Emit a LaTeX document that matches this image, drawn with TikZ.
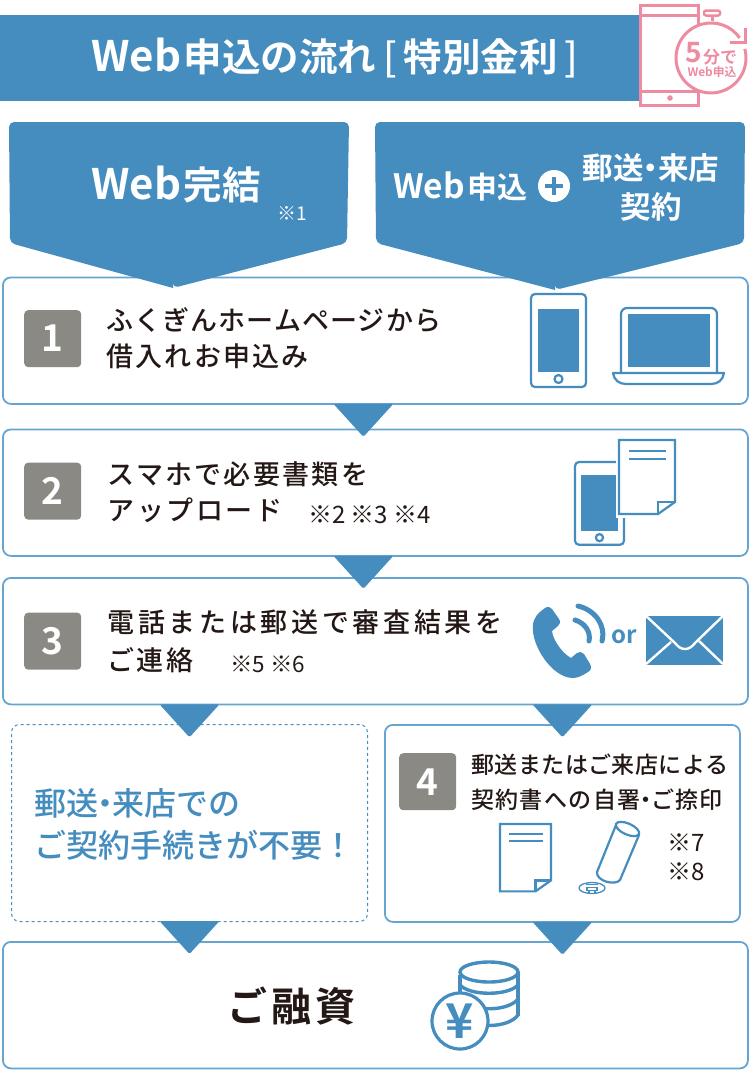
\documentclass[tikz,border=0pt]{standalone}
\usepackage{fontspec}
\usetikzlibrary{positioning}
\setmainfont{Noto Sans CJK JP}
\newfontfamily\jpmed{Noto Sans CJK JP Medium}
\newfontfamily\jpbold{Noto Sans CJK JP Bold}
\definecolor{mainblue}{HTML}{458CBF}
\definecolor{edgeblue}{HTML}{67A4D0}
\definecolor{clockpink}{HTML}{EE8BA0}
\definecolor{inkdark}{HTML}{231815}
\definecolor{badgegray}{HTML}{8A8984}
\newcommand{\dropmark}[1]{\fill[mainblue, rounded corners=1.5pt, shift={(#1)}] (-30,-1) -- (30,-1) -- (0,32) -- cycle;}
\newcommand{\dotsep}{\kern-.27em・\kern-.27em}
\newcommand{\bigweb}[1]{{\fontsize{#1}{#1}\selectfont Web}}
\tikzset{
	pics/phoneicon/.style={code={
		\draw[iconline, rounded corners=4pt] (0,0) rectangle (55,93);
		\fill[mainblue] (7,15) rectangle (48,78);
		\draw[iconline] (27.5,85) circle (4);
	}},
	pics/docicon/.style={code={
		\draw[white, line width=7pt] (0,0) -- (0,74) -- (39,74);
		\draw[iconline, fill=white] (0,0) -- (56,0) -- (56,62) -- (39,74) -- (0,74) -- cycle;
		\draw[iconline] (39,74) -- (39,62) -- (56,62);
		\draw[iconline] (10,11) -- (47,11) (10,19) -- (47,19);
	}},
}
\begin{document}
\begin{tikzpicture}[
		x=1pt, y=-1pt,
		iconline/.style={draw=mainblue, line width=2.2pt},
		stepbox/.style={draw=edgeblue, line width=1.8pt, fill=white, rounded corners=8pt, minimum width=745pt, minimum height=126.5pt, inner sep=0pt},
		numbadge/.style={fill=badgegray, rounded corners=4pt, minimum size=57pt, inner sep=0pt, text=white, font=\jpbold\fontsize{37}{40}\selectfont},
		steptext/.style={align=left, inner sep=0pt, text=inkdark, font=\jpmed\fontsize{27}{36}\selectfont},
		notetext/.style={inner sep=0pt, text=inkdark, font=\fontsize{24}{26}\selectfont},
		headtext/.style={align=center, inner sep=0pt, text=white, font=\jpbold\fontsize{30.5}{39}\selectfont},
	]
	\useasboundingbox (0,0) rectangle (751,1082);
	% header
	\node [fill=mainblue, minimum width=639pt, minimum height=86pt, inner sep=0pt, anchor=north west] (titlebar) at (0,15) {};
	\node [headtext, anchor=west, font=\jpbold\fontsize{38.5}{40}\selectfont] (titletext) at (91,58) {\bigweb{42}\hspace{2.5pt}申込の流れ\hspace{7pt}{\jpmed[}\hspace{7pt}特別金利\hspace{7pt}{\jpmed]}};
	% clock
	\draw[clockpink, line width=3pt, fill=white] (640.5,5.5) rectangle (698,105);
	\draw[clockpink, line width=3pt] (640.5,15) -- (698,15) (640.5,91) -- (698,91);
	\fill[clockpink] (670,98) circle (2.8);
	\draw[clockpink, line width=3pt] (712,21) -- (712,15);
	\draw[clockpink, line width=2.5pt, fill=white, rounded corners=2pt] (704,10.5) rectangle (720,15.5);
	\fill[white] (711,58) circle (36);
	\draw[clockpink, line width=3pt] (744.8,48.9) arc[start angle=-15, end angle=325, radius=35];
	\draw[clockpink, line width=3pt] (730,42) -- (745,42) -- (745,28);
	\node [inner sep=0pt, text=clockpink, anchor=base west, font=\jpbold\fontsize{28}{28}\selectfont] (clockfive) at (685.5,62) {5};
	\node [inner sep=0pt, text=clockpink, anchor=base west, font=\jpbold\fontsize{17}{17}\selectfont] (clockmin) at (703,63) {分で};
	\node [inner sep=0pt, text=clockpink, font=\jpbold\fontsize{11.8}{12}\selectfont] (clockweb) at (712,72.5) {Web申込};
	% step boxes
	\node [stepbox, anchor=north west] (stepone) at (2,276.5) {};
	\node [stepbox, anchor=north west] (steptwo) at (2,428.5) {};
	\node [stepbox, anchor=north west] (stepthree) at (2,577) {};
	\node [stepbox, anchor=north west] (stepend) at (2,941) {};
	\node [stepbox, anchor=north west, minimum width=355pt, minimum height=197pt] (fourbox) at (384,724) {};
	\node [stepbox, anchor=north west, draw=mainblue, line width=1pt, dashed, minimum width=356pt, minimum height=197pt, fill=none] (dashbox) at (11,724) {};
	% heads
	\fill[mainblue, rounded corners=5pt] (9,122) -- (349,122) -- (347,243) -- (173,288) [sharp corners] -- (173,288) [rounded corners=5pt] -- (10,243) -- cycle;
	\fill[mainblue, rounded corners=5pt] (375,122) -- (745,122) -- (744,243) -- (555,290) [sharp corners] -- (555,290) [rounded corners=5pt] -- (376,243) -- cycle;
	\node [headtext, anchor=west, font=\jpbold\fontsize{38.5}{42}\selectfont] (headweb) at (91,185) {\bigweb{42}\hspace{2.5pt}完結};
	\node [inner sep=0pt, text=white, font=\fontsize{19}{20}\selectfont] (noteone) at (292,213) {※1};
	\node [headtext, anchor=west, font=\jpbold\fontsize{30}{32}\selectfont] (headapply) at (393,186) {\bigweb{33.5}\hspace{2.5pt}申込};
	\node [circle, fill=white, minimum size=32pt, inner sep=0pt, anchor=center] (plusmark) at (554,186) {};
	\draw[mainblue, line width=3.5pt] ([xshift=-9pt]plusmark.center) -- ([xshift=9pt]plusmark.center) ([yshift=-9pt]plusmark.center) -- ([yshift=9pt]plusmark.center);
	\node [headtext] (headpost) at (651,187.5) {郵送\dotsep 来店\\契約};
	% step one
	\node [numbadge, right=22pt of stepone.west, yshift=2pt] (numone) {1};
	\node [steptext, right=25pt of numone] (textone) {\addfontfeature{LetterSpace=4}ふくぎんホームページから\\\addfontfeature{LetterSpace=8}借入れお申込み};
	\pic at (531,294) {phoneicon};
	\draw[iconline, rounded corners=6pt] (621,373) -- (621,308) -- (717,308) -- (717,373);
	\fill[mainblue] (628,314) rectangle (710,367);
	\draw[iconline, line join=round] (613,373) -- (724,373) .. controls (723,380) and (718,384) .. (711,384) -- (626,384) .. controls (619,384) and (614,380) .. (613,373) -- cycle;
	% step two
	\node [numbadge, right=22pt of steptwo.west, yshift=1.5pt] (numtwo) {2};
	\node [steptext, right=26pt of numtwo, yshift=-1.5pt] (texttwo) {\addfontfeature{LetterSpace=8.5}スマホで必要書類を\\\addfontfeature{LetterSpace=9.5}アップロード};
	\node [notetext, anchor=west] (notetwo) at (308,515) {※2 ※3 ※4};
	\pic[scale=.89] at (575,462) {phoneicon};
	\pic at (619,440) {docicon};
	% step three
	\node [numbadge, right=22pt of stepthree.west] (numthree) {3};
	\node [steptext, right=26pt of numthree] (textthree) {\addfontfeature{LetterSpace=13.5}電話または郵送で審査結果を\\[2pt]\addfontfeature{LetterSpace=9}ご\hspace{2pt}連絡};
	\node [notetext, anchor=west, font=\fontsize{22.5}{26}\selectfont] (notethree) at (230,664) {※5 ※6};
	\fill[mainblue] (545,608) .. controls (548,606) and (550,607) .. (552,609) -- (559,619) .. controls (561,622) and (560,624) .. (558,626) -- (552,631) .. controls (553,640) and (562,653) .. (571,658) -- (577,653) .. controls (579,651) and (582,652) .. (584,654) -- (590,664) .. controls (592,668) and (591,670) .. (588,672) .. controls (582,676) and (577,678) .. (573,678) .. controls (552,678) and (531,645) .. (533,626) .. controls (533,618) and (538,613) .. (545,608) -- cycle;
	\draw[mainblue, line width=5pt, line cap=round] (575,620) .. controls (585,623) and (591,632) .. (589,641);
	\draw[mainblue, line width=5pt, line cap=round] (578,606) .. controls (595,610) and (606,625) .. (602,641);
	\node [inner sep=0pt, text=mainblue, font=\jpbold\fontsize{24}{24}\selectfont] (ormark) at (624,637) {or};
	\fill[mainblue] (646,616) rectangle (723,665);
	\draw[white, line width=2.4pt] (645,615) -- (675,643) .. controls (681,651) and (689,651) .. (695,643) -- (724,615);
	\draw[white, line width=2.4pt] (646,664) -- (671,642) (723,664) -- (699,641);
	% left branch
	\node [inner sep=0pt, align=left, text=mainblue, font=\jpmed\fontsize{32}{42}\selectfont, anchor=west] (freetext) at (34,824) {郵送\dotsep 来店での\\ご契約手続きが不要！};
	% step four
	\node [numbadge, anchor=north west] (numfour) at (399,753) {4};
	\node [steptext, anchor=north west, font=\jpmed\fontsize{23}{35}\selectfont] (textfour) at (471,754) {\addfontfeature{LetterSpace=2}郵送またはご来店による\\\addfontfeature{LetterSpace=6}契約書への自署\dotsep ご捺印};
	\pic[scale=.91] at (500,824) {docicon};
	\draw[iconline, fill=white] (616,825) -- (597,872) .. controls (596,881) and (615,886) .. (620,880) -- (639,835);
	\draw[iconline, rotate around={-24:(627.5,829)}] (627.5,829) ellipse [x radius=12.5, y radius=5.5];
	\draw[mainblue, line width=1.3pt] (592,888) ellipse [x radius=13, y radius=5.5];
	\draw[mainblue, line width=1.1pt] (586,884.5) -- (598,884.5) (587,887.5) rectangle (597,890.5) (589,890.5) -- (589,892.5) (595,890.5) -- (595,892.5);
	\node [notetext, anchor=west] (noteseven) at (667,843) {※7};
	\node [notetext, anchor=west] (noteeight) at (667,872) {※8};
	% end
	\node [inner sep=0pt, text=inkdark, font=\jpbold\fontsize{40}{42}\selectfont, anchor=west] (endtext) at (227,1006) {\addfontfeature{LetterSpace=10}ご融資};
	\draw[mainblue, line width=3.4pt] (460,975) -- (460,1018) (518,972) -- (518,1016);
	\draw[mainblue, line width=3.4pt] (489,972) ellipse [x radius=29, y radius=10];
	\draw[mainblue, line width=3.4pt] (460,985) .. controls (470,996) and (508,996) .. (518,985);
	\draw[mainblue, line width=3.4pt] (460,999) .. controls (470,1012) and (508,1012) .. (518,999);
	\draw[mainblue, line width=3.4pt] (460,1015) .. controls (470,1029) and (508,1029) .. (518,1015);
	\node [circle, draw=mainblue, line width=3.2pt, fill=white, minimum size=56pt, inner sep=0pt, text=mainblue, font=\jpbold\fontsize{48}{48}\selectfont] (coinfront) at (460,1021) {¥};
	% marks between boxes
	\dropmark{[xshift=-12pt]stepone.south}
	\dropmark{[xshift=-12pt]steptwo.south}
	\dropmark{stepthree.south -| dashbox.south}
	\dropmark{stepthree.south -| fourbox.south}
	\dropmark{dashbox.south}
	\dropmark{fourbox.south}
\end{tikzpicture}
\end{document}
